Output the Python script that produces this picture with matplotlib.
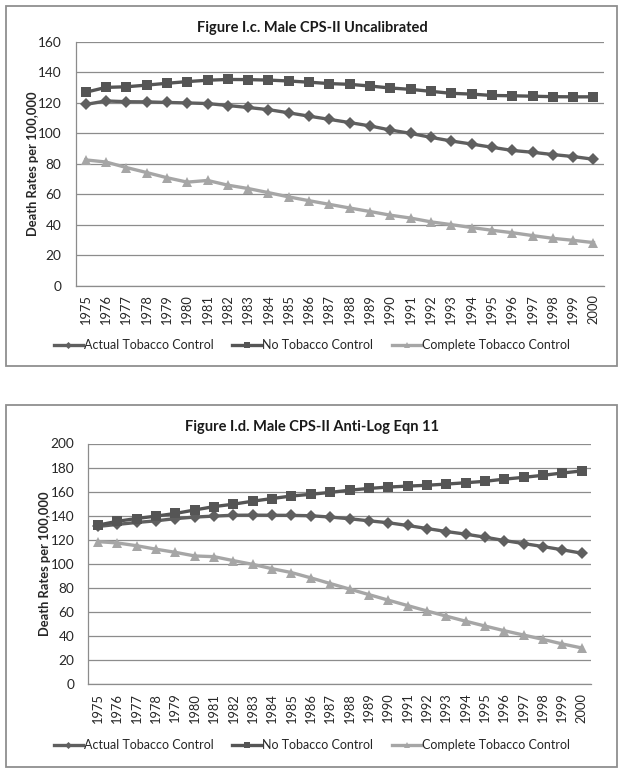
import matplotlib
matplotlib.use("Agg")
import matplotlib.pyplot as plt
from matplotlib.lines import Line2D
from matplotlib.patches import Rectangle

plt.rcParams["font.family"] = ["Lato", "DejaVu Sans"]

# ----------------------------
# Data
# ----------------------------
years = [str(y) for y in range(1975, 2001)]

# Figure I.c. Male CPS-II Uncalibrated
top_actual = [119.0, 121.3, 120.8, 120.7, 120.3, 120.0, 119.6, 118.3, 117.0, 115.6,
              113.5, 111.3, 109.2, 107.1, 104.9, 102.2, 100.0, 97.4, 95.0, 93.0,
              90.9, 88.8, 87.6, 86.1, 84.8, 83.0]
top_none = [127.0, 130.2, 130.6, 131.7, 132.9, 134.0, 134.9, 135.4, 135.3, 135.0,
            134.4, 133.6, 132.7, 132.2, 131.1, 129.8, 128.9, 127.6, 126.3, 125.8,
            124.9, 124.7, 124.4, 124.1, 124.0, 124.0]
top_complete = [82.6, 81.2, 77.6, 74.3, 70.9, 68.0, 69.1, 66.0, 63.8, 61.1,
                58.3, 55.8, 53.4, 51.0, 48.7, 46.3, 44.4, 41.9, 40.1, 38.2,
                36.4, 34.8, 32.9, 31.1, 29.8, 28.3]

# Figure I.d. Male CPS-II Anti-Log Eqn 11
bot_actual = [131.1, 132.8, 134.4, 135.8, 137.6, 138.9, 139.7, 140.4, 140.5, 140.4,
              140.3, 140.0, 138.9, 137.5, 135.8, 134.2, 131.9, 129.4, 126.9, 124.7,
              122.2, 119.4, 116.9, 114.4, 111.7, 108.9]
bot_none = [132.2, 135.4, 137.7, 139.7, 141.9, 144.8, 147.6, 149.6, 152.1, 154.3,
            156.4, 157.8, 159.4, 161.2, 162.7, 163.8, 164.6, 165.3, 166.3, 167.4,
            168.6, 170.4, 171.9, 173.6, 175.5, 177.2]
bot_complete = [118.5, 117.4, 115.1, 112.2, 109.6, 106.6, 106.0, 102.7, 99.6, 96.0,
                92.8, 88.4, 83.7, 79.1, 74.5, 69.9, 65.4, 60.9, 56.6, 52.4,
                48.4, 44.5, 40.9, 37.3, 33.5, 30.2]

series_names = ["Actual Tobacco Control", "No Tobacco Control", "Complete Tobacco Control"]

# ----------------------------
# Styling
# ----------------------------
C_ACTUAL = "#5f5f5f"
C_NONE = "#555555"
C_COMPLETE = "#a6a6a6"
GRID = "#8c8c8c"
BOX = "#8f8f8f"
TXT = "#262626"

styles = [
    dict(color=C_ACTUAL, marker="D", ms=6.0),
    dict(color=C_NONE, marker="s", ms=7.0),
    dict(color=C_COMPLETE, marker="^", ms=7.5),
]

W, H = 624, 772
fig = plt.figure(figsize=(W / 100, H / 100), dpi=100)


def px_rect(l, t, r, b):
    return [l / W, 1 - b / H, (r - l) / W, (b - t) / H]


# chart frames
for (l, t, r, b) in [(6, 6, 616.5, 365.5), (6, 405, 616.5, 767)]:
    fig.patches.append(Rectangle((l / W, 1 - b / H), (r - l) / W, (b - t) / H,
                                 transform=fig.transFigure, fill=False,
                                 edgecolor=BOX, linewidth=1.3))


def draw_panel(ax, data, ymax, title, title_y, legend_y, ylabel_x):
    x = range(len(years))
    for vals, st in zip(data, styles):
        ax.plot(x, vals, color=st["color"], lw=2.4, marker=st["marker"],
                markersize=st["ms"], markeredgewidth=0, zorder=3)
    ax.set_xlim(-0.5, len(years) - 0.5)
    ax.set_ylim(0, ymax)
    ax.set_yticks(range(0, ymax + 1, 20))
    ax.set_xticks(list(x))
    ax.set_xticklabels(years, rotation=90, fontsize=9.3, color=TXT)
    ax.tick_params(axis="y", labelsize=9.8, colors=TXT, length=0, pad=10)
    ax.tick_params(axis="x", length=0, pad=6)
    ax.grid(axis="y", color=GRID, linewidth=0.9)
    ax.set_axisbelow(True)
    for s in ("top", "right"):
        ax.spines[s].set_visible(False)
    ax.spines["left"].set_color(GRID)
    ax.spines["bottom"].set_color(GRID)
    ax.spines["left"].set_linewidth(0.9)
    ax.spines["bottom"].set_linewidth(0.9)
    fig.text(0.5, 1 - title_y / H, title, ha="center", va="center",
             fontsize=10.5, fontweight="bold", color="#1a1a1a")
    pos = ax.get_position()
    fig.text(ylabel_x, (pos.y0 + pos.y1) / 2, "Death Rates per 100,000",
             rotation=90, ha="center", va="center",
             fontsize=9.3, fontweight="bold", color=TXT)
    handles = [Line2D([0], [0], color=st["color"], lw=2.4, marker=st["marker"],
                      markersize=st["ms"] * 0.6, markeredgewidth=0)
               for st in styles]
    fig.legend(handles, series_names, loc="center", ncol=3,
               bbox_to_anchor=(0.5, 1 - legend_y / H), frameon=False,
               fontsize=9.0, handlelength=2.3, handletextpad=0.1,
               columnspacing=1.5, labelcolor=TXT)


ax_top = fig.add_axes(px_rect(75.5, 42, 603.6, 285.7))
draw_panel(ax_top, [top_actual, top_none, top_complete], 160,
           "Figure I.c. Male CPS-II Uncalibrated", 28, 345, 33 / W)

ax_bot = fig.add_axes(px_rect(88.3, 443.5, 591.4, 684.3))
draw_panel(ax_bot, [bot_actual, bot_none, bot_complete], 200,
           "Figure I.d. Male CPS-II Anti-Log Eqn 11", 427, 745, 45 / W)

fig.savefig("out.png", dpi=100)
